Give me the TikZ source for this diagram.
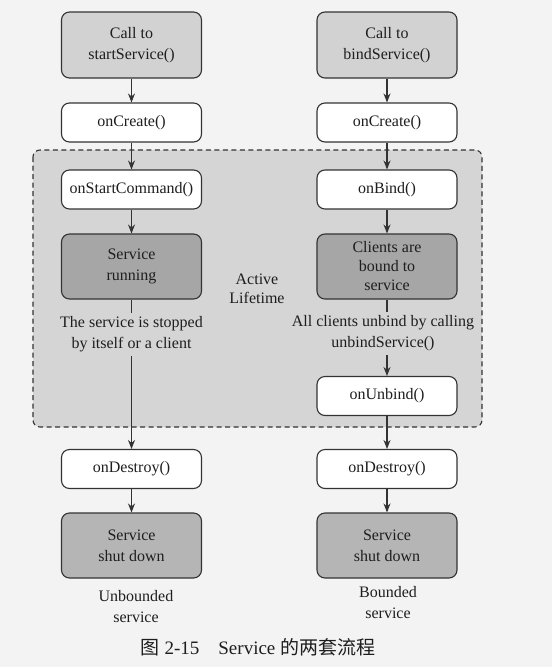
\documentclass[tikz,border=0pt]{standalone}
\usepackage{fontspec}
\setmainfont{Liberation Serif}
\newfontfamily\cjk{Noto Sans CJK SC}
\usetikzlibrary{arrows.meta}

\definecolor{pagegray}{HTML}{F3F3F3}
\definecolor{regiongray}{HTML}{D5D5D5}
\definecolor{callgray}{HTML}{D2D2D2}
\definecolor{rungray}{HTML}{A6A6A6}
\definecolor{downgray}{HTML}{B5B5B5}
\definecolor{linegray}{HTML}{333333}
\definecolor{inkgray}{HTML}{1E1E1E}

\begin{document}
\begin{tikzpicture}[x=1pt, y=-1pt, >={Stealth[length=9pt, width=7pt]},
  every node/.style={font=\fontsize{16}{21}\selectfont, align=center, text=inkgray},
  box/.style={draw=linegray, line width=1.1pt, rounded corners=8pt, minimum width=140pt},
  callbox/.style={box, fill=callgray, minimum height=66pt},
  methodbox/.style={box, fill=white, minimum height=39pt},
  runbox/.style={box, fill=rungray, minimum height=65pt},
  downbox/.style={box, fill=downgray, minimum height=65pt},
  flow/.style={draw=linegray, line width=1.1pt}]
  \useasboundingbox[fill=pagegray] (0,0) rectangle (552,667);
  % active lifetime region
  \draw[draw=linegray, line width=1.1pt, dash pattern=on 5pt off 3.5pt, fill=regiongray,
        rounded corners=7pt] (33,150) rectangle (482,427);
  \node (active) at (257,288.5) {Active\\[-2pt]Lifetime};
  % left column: started service
  \node[callbox]   (callS)    at (131.5,45)    {Call to\\startService()};
  \node[methodbox] (createL)  at (131.5,122.5) {onCreate()};
  \node[methodbox] (startCmd) at (131.5,189.5) {onStartCommand()};
  \node[runbox]    (running)  at (131.5,266.5) {Service\\running};
  \node            (stopL)    at (131.5,334.5) {The service is stopped\\by itself or a client};
  \node[methodbox] (destroyL) at (131.5,469)   {onDestroy()};
  \node[downbox]   (downL)    at (131.5,545.5) {Service\\shut down};
  \node            (kindL)    at (136,606.5)   {Unbounded\\service};
  \draw[flow, ->] (callS) -- (createL);
  \draw[flow, ->] (createL) -- (startCmd);
  \draw[flow, ->] (startCmd) -- (running);
  \draw[flow] (running) -- (stopL);
  \draw[flow, ->] (stopL) -- (destroyL);
  \draw[flow, ->] (destroyL) -- (downL);
  % right column: bound service
  \node[callbox]   (callB)    at (387,45)    {Call to\\bindService()};
  \node[methodbox] (createR)  at (387,122.5) {onCreate()};
  \node[methodbox] (bind)     at (387,189.5) {onBind()};
  \node[runbox]    (bound)    at (387,266.5) {Clients are\\[-2pt]bound to\\[-2pt]service};
  \node            (unbindTxt) at (383,333.5) {All clients unbind by calling\\unbindService()};
  \node[methodbox] (unbind)   at (387,396)   {onUnbind()};
  \node[methodbox] (destroyR) at (387,469)   {onDestroy()};
  \node[downbox]   (downR)    at (387,545.5) {Service\\shut down};
  \node            (kindR)    at (388,603)   {Bounded\\service};
  \draw[flow, ->] (callB) -- (createR);
  \draw[flow, ->] (createR) -- (bind);
  \draw[flow, ->] (bind) -- (bound);
  \draw[flow] (bound) -- (bound.south |- unbindTxt.north);
  \draw[flow, ->] (unbind.north |- unbindTxt.south) -- (unbind);
  \draw[flow, ->] (unbind) -- (destroyR);
  \draw[flow, ->] (destroyR) -- (downR);
  % caption
  \node (caption) at (258,647) {\fontsize{19}{22}\selectfont{\cjk 图} 2-15\quad Service {\cjk 的两套流程}};
\end{tikzpicture}
\end{document}
